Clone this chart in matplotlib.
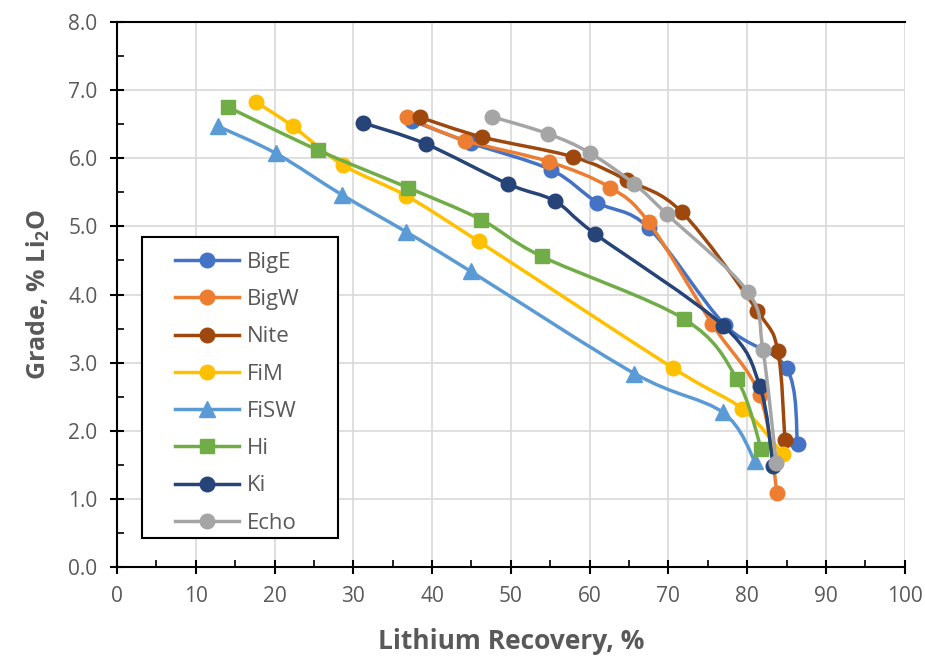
import numpy as np
import matplotlib
matplotlib.use("Agg")
import matplotlib.pyplot as plt
from matplotlib.path import Path
from matplotlib.patches import PathPatch, Rectangle
from matplotlib.lines import Line2D
from matplotlib.ticker import MultipleLocator, FormatStrFormatter

# ----------------------------------------------------------------
# data (recovery %, grade % Li2O)

names = ["BigE", "BigW", "Nite", "FiM", "FiSW", "Hi", "Ki", "Echo"]

bige_x = [37.5, 45.0, 55.1, 61.0, 67.5, 77.2, 85.0, 86.4]
bige_y = [6.55, 6.22, 5.83, 5.35, 4.98, 3.55, 2.92, 1.81]

bigw_x = [36.8, 44.2, 54.8, 62.6, 67.5, 75.6, 81.6, 83.8]
bigw_y = [6.60, 6.26, 5.95, 5.57, 5.06, 3.56, 2.52, 1.09]

nite_x = [38.5, 46.4, 57.9, 64.7, 71.7, 81.3, 83.9, 84.8]
nite_y = [6.60, 6.31, 6.02, 5.68, 5.21, 3.76, 3.17, 1.86]

fim_x = [17.6, 22.3, 28.7, 36.7, 45.9, 70.6, 79.4, 84.5]
fim_y = [6.83, 6.47, 5.90, 5.45, 4.78, 2.92, 2.32, 1.66]

fisw_x = [12.8, 20.2, 28.6, 36.7, 44.9, 65.7, 76.9, 81.0]
fisw_y = [6.47, 6.07, 5.46, 4.92, 4.34, 2.84, 2.27, 1.55]

hi_x = [14.1, 25.5, 36.9, 46.2, 53.9, 72.0, 78.7, 81.8]
hi_y = [6.75, 6.12, 5.57, 5.10, 4.56, 3.64, 2.76, 1.73]

ki_x = [31.2, 39.2, 49.7, 55.6, 60.7, 77.0, 81.6, 83.3]
ki_y = [6.52, 6.21, 5.62, 5.37, 4.89, 3.54, 2.66, 1.48]

echo_x = [47.6, 54.7, 60.0, 65.7, 69.8, 80.1, 82.0, 83.7]
echo_y = [6.61, 6.36, 6.08, 5.62, 5.18, 4.04, 3.19, 1.52]

# ----------------------------------------------------------------

colors = ["#4472C4", "#ED7D31", "#9E480E", "#FFC000", "#5B9BD5", "#70AD47", "#264478", "#A5A5A5"]
markers = ["o", "o", "o", "o", "^", "s", "o", "o"]
series_x = [bige_x, bigw_x, nite_x, fim_x, fisw_x, hi_x, ki_x, echo_x]
series_y = [bige_y, bigw_y, nite_y, fim_y, fisw_y, hi_y, ki_y, echo_y]

text_col = "#595959"
plt.rcParams['font.family'] = ['Open Sans', 'DejaVu Sans']


def smooth_path(xs, ys):
        # excel-like smoothed line: cubic bezier through the points
        p = np.column_stack([xs, ys])
        n = len(p)
        verts = [p[0]]
        codes = [Path.MOVETO]
        for i in range(n - 1):
                p0 = p[i - 1] if i > 0 else p[i]
                p3 = p[i + 2] if i + 2 < n else p[i + 1]
                c1 = p[i] + (p[i + 1] - p0) / 6.0
                c2 = p[i + 1] - (p3 - p[i]) / 6.0
                verts += [c1, c2, p[i + 1]]
                codes += [Path.CURVE4] * 3
        return Path(verts, codes)


fig = plt.figure(figsize=(9.25, 6.66), dpi=100)
ax = fig.add_axes([0.1265, 0.1486, 0.8515, 0.8184])

handles = []
for i in range(len(names)):
        z = 3 + i
        patch = PathPatch(smooth_path(series_x[i], series_y[i]), facecolor='none',
                          edgecolor=colors[i], lw=2.5, zorder=z)
        ax.add_patch(patch)
        ms = 11.5 if markers[i] == "^" else (10 if markers[i] == "s" else 10.5)
        ax.plot(series_x[i], series_y[i], linestyle='none', marker=markers[i], ms=ms,
                color=colors[i], markeredgecolor=colors[i], zorder=z)
        handles.append(Line2D([], [], color=colors[i], lw=2.5, marker=markers[i], ms=ms))

ax.set_xlim(0, 100)
ax.set_ylim(0, 8)
ax.xaxis.set_major_locator(MultipleLocator(10))
ax.xaxis.set_minor_locator(MultipleLocator(5))
ax.yaxis.set_major_locator(MultipleLocator(1))
ax.yaxis.set_minor_locator(MultipleLocator(0.5))
ax.yaxis.set_major_formatter(FormatStrFormatter('%.1f'))

ax.grid(True, which='major', color='#D9D9D9', lw=1.2, zorder=0)
ax.set_axisbelow(True)

for s in ['left', 'bottom', 'top']:
        ax.spines[s].set_color('black')
        ax.spines[s].set_linewidth(1.5)
ax.spines['right'].set_visible(False)

ax.tick_params(which='major', direction='inout', length=10, width=1.5, colors='black',
               labelcolor=text_col, labelsize=15, pad=9)
ax.tick_params(which='minor', direction='in', length=5, width=1.2, colors='black')

ax.set_xlabel('Lithium Recovery, %', fontsize=19, fontweight='bold', color=text_col, labelpad=15)
ax.set_ylabel('Grade, % Li$_\\mathregular{2}$O', fontsize=18, fontweight='bold', color=text_col, labelpad=12)

# legend box drawn separately so it can be wider than the entries
box = Rectangle((0.0317, 0.0532), 0.2488, 0.5523, transform=ax.transAxes,
                facecolor='white', edgecolor='black', lw=1.5, zorder=19)
ax.add_patch(box)
leg = ax.legend(handles, names, loc='upper left', bbox_to_anchor=(0.0736, 0.578),
                fontsize=16, frameon=False, labelcolor=text_col, handlelength=2.9,
                labelspacing=0.73, borderpad=0, handletextpad=0.35, borderaxespad=0)
leg.set_zorder(20)

fig.savefig('out.png', dpi=100)
